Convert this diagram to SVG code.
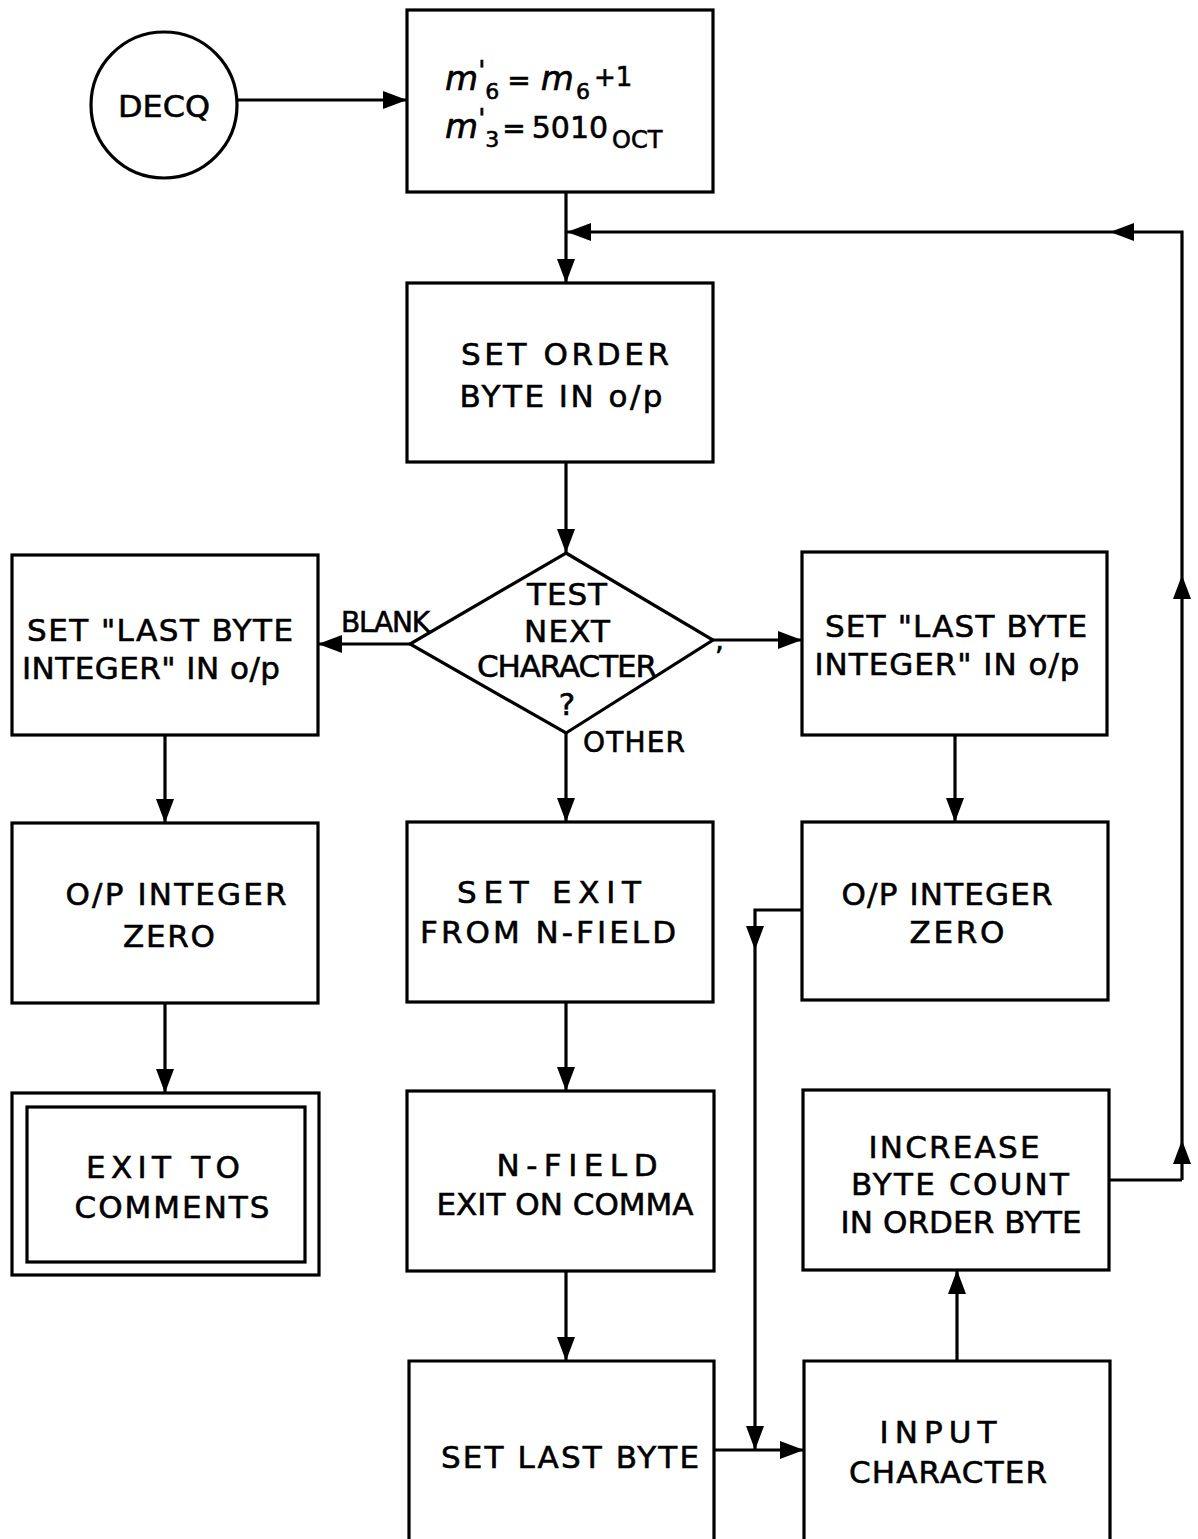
<svg xmlns="http://www.w3.org/2000/svg" width="1198" height="1539" viewBox="0 0 1198 1539">
<defs>
<marker id="ah" markerUnits="userSpaceOnUse" markerWidth="26" markerHeight="20" refX="24" refY="9" orient="auto">
<path d="M0,0 L24,9 L0,18 Z" fill="#000"/>
</marker>
<style>
.b{fill:#fff;stroke:#000;stroke-width:3.2}
.c{fill:none;stroke:#000;stroke-width:3.2}
.t{font-family:"DejaVu Sans","Liberation Sans",sans-serif;font-size:31px;fill:#000;stroke:#000;stroke-width:0.6;text-anchor:middle}
.l{font-family:"DejaVu Sans","Liberation Sans",sans-serif;font-size:28px;fill:#000;stroke:#000;stroke-width:0.6}
.m{font-family:"DejaVu Sans","Liberation Sans",sans-serif;fill:#000;stroke:#000;stroke-width:0.6}
</style>
</defs>
<rect width="1198" height="1539" fill="#fff"/>
<g id="connectors">
<path class="c" d="M237,100 H407" marker-end="url(#ah)"/>
<path class="c" d="M566,192 V283" marker-end="url(#ah)"/>
<path class="c" d="M1182,1180 V1140" marker-end="url(#ah)"/>
<path class="c" d="M1182,1140 V575" marker-end="url(#ah)"/>
<path class="c" d="M1182,575 V232 H1110" marker-end="url(#ah)"/>
<path class="c" d="M1110,232 H567" marker-end="url(#ah)"/>
<path class="c" d="M1109,1180 H1182"/>
<path class="c" d="M566,462 V553" marker-end="url(#ah)"/>
<path class="c" d="M410,644 H318" marker-end="url(#ah)"/>
<path class="c" d="M713,640 H802" marker-end="url(#ah)"/>
<path class="c" d="M566,733 V822" marker-end="url(#ah)"/>
<path class="c" d="M165,735 V823" marker-end="url(#ah)"/>
<path class="c" d="M165,1003 V1093" marker-end="url(#ah)"/>
<path class="c" d="M955,735 V822" marker-end="url(#ah)"/>
<path class="c" d="M566,1002 V1091" marker-end="url(#ah)"/>
<path class="c" d="M566,1271 V1361" marker-end="url(#ah)"/>
<path class="c" d="M957,1361 V1270" marker-end="url(#ah)"/>
<path class="c" d="M802,910 H755 V950" marker-end="url(#ah)"/>
<path class="c" d="M755,950 V1450" marker-end="url(#ah)"/>
<path class="c" d="M714,1450 H804" marker-end="url(#ah)"/>
</g>
<g id="decq">
<circle class="b" cx="164" cy="105" r="73"/>
<text class="t" x="164" y="117" textLength="92" lengthAdjust="spacingAndGlyphs">DECQ</text>
</g>
<g id="init">
<rect class="b" x="407" y="10" width="306" height="182"/>
<text class="m" font-size="34" x="445" y="90"><tspan font-style="italic">m</tspan><tspan font-size="26" font-style="italic" dy="-10">'</tspan><tspan font-size="22" dy="19">6</tspan><tspan font-size="28" dx="8" dy="-9">=</tspan><tspan font-style="italic" dx="10">m</tspan><tspan font-size="22" dx="2" dy="9">6</tspan><tspan font-size="26" dx="4" dy="-13">+1</tspan></text>
<text class="m" font-size="34" x="445" y="138"><tspan font-style="italic">m</tspan><tspan font-size="26" font-style="italic" dy="-10">'</tspan><tspan font-size="22" dy="19">3</tspan><tspan font-size="28" dx="3" dy="-9">=</tspan><tspan font-size="30" dx="6">5010</tspan><tspan font-size="24" dx="4" dy="10">OCT</tspan></text>
</g>
<g id="setorder">
<rect class="b" x="407" y="283" width="306" height="179"/>
<text class="t" x="565" y="365" textLength="208" lengthAdjust="spacing">SET ORDER</text>
<text class="t" x="561" y="407" textLength="203" lengthAdjust="spacing">BYTE IN o/p</text>
</g>
<g id="test">
<path class="b" d="M566,553 L713,640 L566,733 L410,644 Z"/>
<text class="t" x="567" y="605" textLength="80" lengthAdjust="spacing">TEST</text>
<text class="t" x="567" y="642" textLength="86" lengthAdjust="spacing">NEXT</text>
<text class="t" x="567" y="677" textLength="180" lengthAdjust="spacing">CHARACTER</text>
<text class="t" x="567" y="715">?</text>
<text class="l" x="341" y="632" textLength="89" lengthAdjust="spacing">BLANK</text>
<text class="l" font-size="40" x="715" y="650">,</text>
<text class="l" x="583" y="752" textLength="102" lengthAdjust="spacing">OTHER</text>
</g>
<g id="lastleft">
<rect class="b" x="12" y="555" width="306" height="180"/>
<text class="t" x="160" y="641" textLength="266" lengthAdjust="spacing">SET "LAST BYTE</text>
<text class="t" x="151" y="679" textLength="258" lengthAdjust="spacing">INTEGER" IN o/p</text>
</g>
<g id="lastright">
<rect class="b" x="802" y="552" width="305" height="183"/>
<text class="t" x="956" y="637" textLength="262" lengthAdjust="spacing">SET "LAST BYTE</text>
<text class="t" x="947" y="675" textLength="265" lengthAdjust="spacing">INTEGER" IN o/p</text>
</g>
<g id="zeroleft">
<rect class="b" x="12" y="823" width="306" height="180"/>
<text class="t" x="176" y="905" textLength="221" lengthAdjust="spacing">O/P INTEGER</text>
<text class="t" x="169" y="947" textLength="92" lengthAdjust="spacing">ZERO</text>
</g>
<g id="setexit">
<rect class="b" x="407" y="822" width="306" height="180"/>
<text class="t" x="549" y="903" textLength="184" lengthAdjust="spacing">SET  EXIT</text>
<text class="t" x="548" y="943" textLength="256" lengthAdjust="spacing">FROM  N-FIELD</text>
</g>
<g id="zeroright">
<rect class="b" x="802" y="822" width="306" height="178"/>
<text class="t" x="947" y="905" textLength="211" lengthAdjust="spacing">O/P INTEGER</text>
<text class="t" x="957" y="943" textLength="95" lengthAdjust="spacing">ZERO</text>
</g>
<g id="exit">
<rect class="b" x="12" y="1093" width="307" height="182"/>
<rect class="b" x="27" y="1107" width="278" height="155"/>
<text class="t" x="163" y="1178" textLength="154" lengthAdjust="spacing">EXIT  TO</text>
<text class="t" x="172" y="1218" textLength="195" lengthAdjust="spacing">COMMENTS</text>
</g>
<g id="nfield">
<rect class="b" x="407" y="1091" width="307" height="180"/>
<text class="t" x="577" y="1176" textLength="161" lengthAdjust="spacing">N-FIELD</text>
<text class="t" x="565" y="1215" textLength="257" lengthAdjust="spacing">EXIT ON COMMA</text>
</g>
<g id="increase">
<rect class="b" x="803" y="1090" width="306" height="180"/>
<text class="t" x="954" y="1158" textLength="171" lengthAdjust="spacing">INCREASE</text>
<text class="t" x="960" y="1195" textLength="218" lengthAdjust="spacing">BYTE  COUNT</text>
<text class="t" x="961" y="1233" textLength="241" lengthAdjust="spacing">IN ORDER BYTE</text>
</g>
<g id="setlast">
<path class="b" d="M409,1545 V1361 H714 V1545"/>
<text class="t" x="570" y="1468" textLength="258" lengthAdjust="spacing">SET LAST BYTE</text>
</g>
<g id="input">
<path class="b" d="M804,1545 V1361 H1110 V1545"/>
<text class="t" x="938" y="1443" textLength="117" lengthAdjust="spacing">INPUT</text>
<text class="t" x="948" y="1483" textLength="198" lengthAdjust="spacing">CHARACTER</text>
</g>
</svg>
